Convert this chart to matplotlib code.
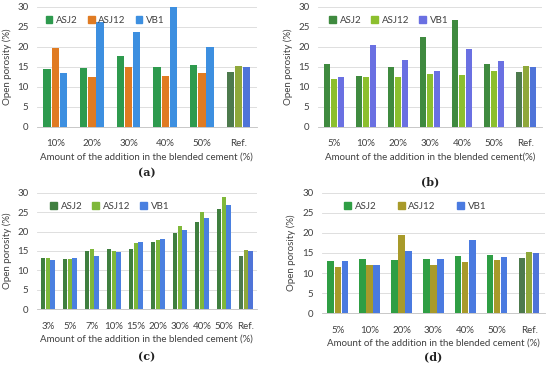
import matplotlib
matplotlib.use("Agg")
import matplotlib.pyplot as plt
import numpy as np

series = ["ASJ2", "ASJ12", "VB1"]

cats_a = ["10%", "20%", "30%", "40%", "50%", "Ref."]
asj2_a = [14.6, 14.8, 17.8, 15.1, 15.6, 13.8]
asj12_a = [19.8, 12.5, 14.9, 12.7, 13.6, 15.2]
vb1_a = [13.6, 26.3, 23.7, 30.0, 19.9, 15.0]

cats_b = ["5%", "10%", "20%", "30%", "40%", "50%", "Ref."]
asj2_b = [15.7, 12.8, 15.1, 22.6, 26.7, 15.8, 13.8]
asj12_b = [11.9, 12.4, 12.6, 13.3, 12.9, 14.1, 15.2]
vb1_b = [12.6, 20.4, 16.8, 14.1, 19.5, 16.6, 15.0]

cats_c = ["3%", "5%", "7%", "10%", "15%", "20%", "30%", "40%", "50%", "Ref."]
asj2_c = [13.1, 13.0, 15.1, 15.5, 15.5, 17.3, 19.7, 22.5, 25.9, 13.8]
asj12_c = [13.2, 13.0, 15.6, 15.1, 17.1, 17.8, 21.5, 25.0, 28.8, 15.2]
vb1_c = [12.6, 13.3, 13.8, 14.8, 17.3, 18.1, 20.4, 23.6, 26.9, 15.0]

cats_d = ["5%", "10%", "20%", "30%", "40%", "50%", "Ref."]
asj2_d = [13.0, 13.6, 13.2, 13.5, 14.3, 14.4, 13.8]
asj12_d = [11.6, 11.9, 19.5, 12.1, 12.8, 13.3, 15.2]
vb1_d = [13.0, 11.9, 15.5, 13.5, 18.3, 13.9, 15.0]

plt.rcParams["font.family"] = ["Lato", "DejaVu Sans"]
TXT = "#404040"
REF_COLORS = ["#4d7a4d", "#8fa83a", "#4f74d8"]
FS = 7


def panel(fig, rect, cats, vals, colors, xlabel, tag, tag_y, leg_anchor, colspace):
    ax = fig.add_axes(rect)
    x = np.arange(len(cats))
    w = 0.2
    for i, (v, c) in enumerate(zip(vals, colors)):
        cols = [c] * len(cats)
        cols[-1] = REF_COLORS[i]
        ax.bar(x + (i - 1) * 0.22, v, width=w, color=cols, label=series[i], zorder=3)
    ax.set_xlim(-0.5, len(cats) - 0.5)
    ax.set_ylim(0, 30)
    ax.set_yticks(range(0, 31, 5))
    ax.set_xticks(x)
    ax.set_xticklabels(cats)
    ax.grid(axis="y", color="#d9d9d9", lw=0.6, zorder=0)
    for s in ["top", "right", "left"]:
        ax.spines[s].set_visible(False)
    ax.spines["bottom"].set_color("#bfbfbf")
    ax.spines["bottom"].set_linewidth(0.6)
    ax.tick_params(length=0, labelsize=FS, colors=TXT, pad=6)
    ax.tick_params(axis="x", pad=9)
    ax.set_ylabel("Open porosity (%)", fontsize=FS, color=TXT, labelpad=4)
    ax.set_xlabel(xlabel, fontsize=FS, color=TXT, labelpad=3)
    handles = [plt.Rectangle((0, 0), 1, 1, color=c) for c in colors]
    ax.legend(handles, series, loc="upper left", bbox_to_anchor=leg_anchor, ncol=3,
              frameon=False, fontsize=FS, handlelength=0.7, handleheight=0.7,
              handletextpad=0.4, columnspacing=colspace, labelcolor=TXT)
    cx = rect[0] + rect[2] / 2
    fig.text(cx, tag_y, tag, ha="center", va="center", fontsize=8, fontweight="bold",
             family="DejaVu Serif", color="#222222")
    return ax


fig = plt.figure(figsize=(5.5, 3.68), dpi=100)
fig.patch.set_facecolor("white")

xl = "Amount of the addition in the blended cement (%)"
panel(fig, [0.067, 0.655, 0.40, 0.326], cats_a, [asj2_a, asj12_a, vb1_a],
      ["#2e9a4e", "#e07b22", "#3d8fe0"], xl, "(a)", 0.53, (0.0, 1.0), 1.0)
panel(fig, [0.578, 0.655, 0.407, 0.326], cats_b, [asj2_b, asj12_b, vb1_b],
      ["#3f8a3f", "#8cbf2e", "#6a70e2"], "Amount of the addition in the blended cement(%)",
      "(b)", 0.505, (0.01, 1.0), 1.0)
panel(fig, [0.067, 0.160, 0.40, 0.316], cats_c, [asj2_c, asj12_c, vb1_c],
      ["#3f7f3f", "#7fb83a", "#4a80e0"], xl, "(c)", 0.03, (0.02, 1.0), 1.0)
panel(fig, [0.585, 0.149, 0.406, 0.327], cats_d, [asj2_d, asj12_d, vb1_d],
      ["#2f9e44", "#a89a2a", "#4a7ae0"], xl, "(d)", 0.03, (0.06, 1.0), 2.2)

fig.savefig("out.png", dpi=100)
